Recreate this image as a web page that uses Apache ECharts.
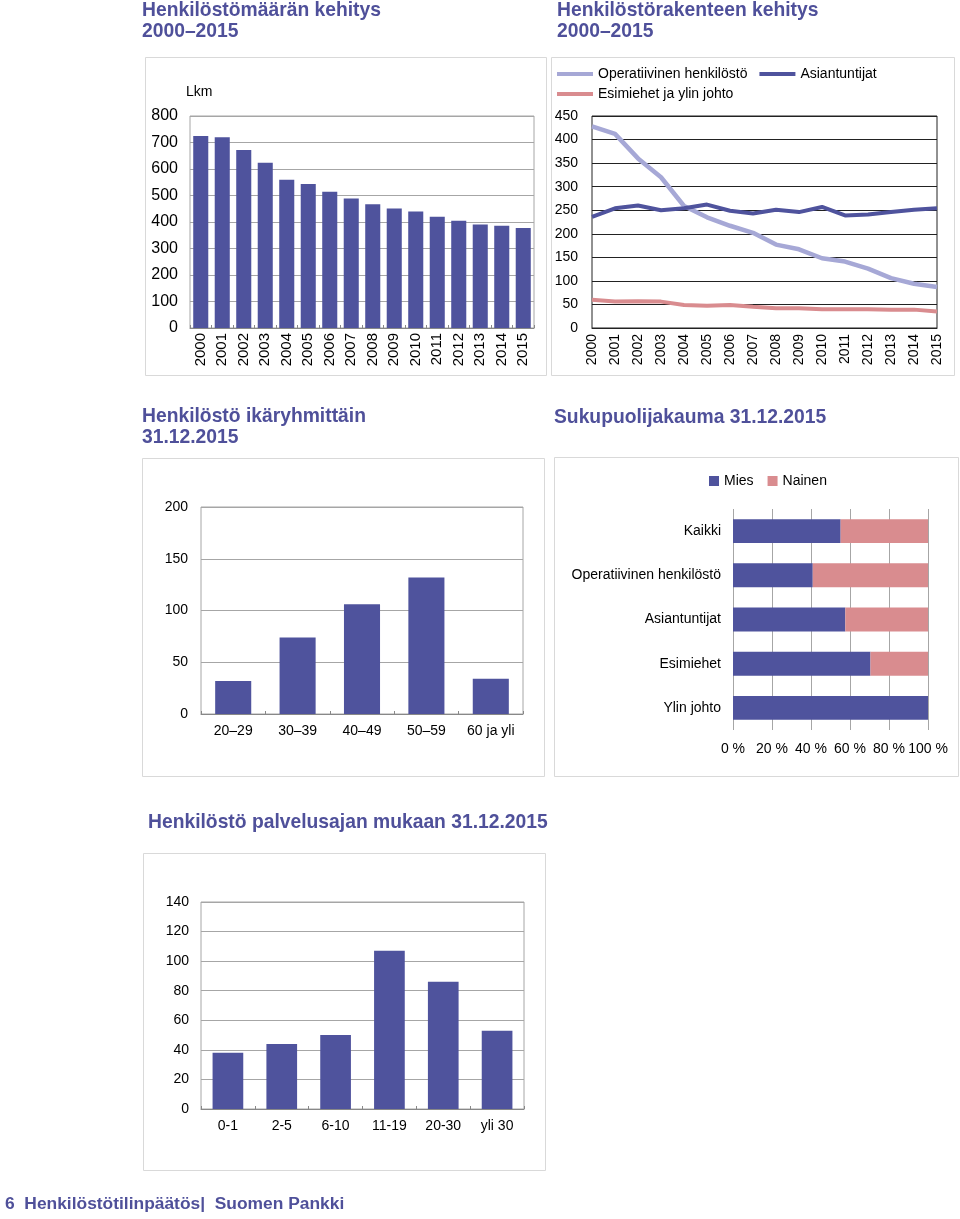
<!DOCTYPE html>
<html>
<head>
<meta charset="utf-8">
<script src="https://cdn.jsdelivr.net/npm/echarts@6/dist/echarts.min.js"></script>
<style>
html,body{margin:0;padding:0;background:#fff;}
#main{width:960px;height:1219px;}
</style>
</head>
<body>
<div id="main"></div>
<script>
const years = ['2000','2001','2002','2003','2004','2005','2006','2007','2008','2009','2010','2011','2012','2013','2014','2015'];
const headcount = [725,720,672,624,559,543,514,489,467,451,440,420,405,391,386,377];
const operational = [428,412,360,320,259,235,217,202,177,167,148,141,126,106,94,87];
const experts = [236,254,260,250,254,262,249,243,251,246,257,239,241,246,251,254];
const managers = [60,56,57,56,49,47,49,45,42,42,40,40,40,39,39,35];
const headcountTicks = [0,100,200,300,400,500,600,700,800];
const ageGroups = ['20–29','30–39','40–49','50–59','60 ja yli'];
const ageValues = [32,74,106,132,34];
const genderCategories = ['Kaikki','Operatiivinen henkilöstö','Asiantuntijat','Esimiehet','Ylin johto'];
const malePct = [55.2,40.9,57.6,70.5,100];
const femalePct = [44.8,59.1,42.4,29.5,0];
const serviceGroups = ['0-1','2-5','6-10','11-19','20-30','yli 30'];
const serviceValues = [38,44,50,107,86,53];

const FONT = '"Liberation Sans", Arial, sans-serif';
const BLUE = '#4f539d';
const LAV = '#a6a8d6';
const PINK = '#d98c8f';
const TITLE = '#4f509a';
const GRID = '#a6a6a6';

function titleObj(text, left, top, size){
  return {text: text, left: left, top: top, padding: 0,
    textStyle: {fontFamily: FONT, fontSize: size || 19.3, fontWeight: 'bold', color: TITLE, lineHeight: 21}};
}
function panel(x,y,w,h){
  return {type:'rect', shape:{x:x+0.5,y:y+0.5,width:w,height:h}, style:{fill:'none', stroke:'#d9d9d9', lineWidth:1}, z:-10};
}
const lab = (size) => ({fontFamily: FONT, fontSize: size, color: '#000'});

const chart = echarts.init(document.getElementById('main'));
chart.setOption({
  animation: false,
  backgroundColor: '#fff',
  textStyle: {fontFamily: FONT},
  title: [
    titleObj('Henkilöstömäärän kehitys\n2000–2015', 142, 0),
    titleObj('Henkilöstörakenteen kehitys\n2000–2015', 557, 0),
    titleObj('Henkilöstö ikäryhmittäin\n31.12.2015', 142, 406),
    titleObj('Sukupuolijakauma 31.12.2015', 554, 407),
    titleObj('Henkilöstö palvelusajan mukaan 31.12.2015', 148, 812),
    titleObj('6  Henkilöstötilinpäätös|  Suomen Pankki', 5, 1194, 17.4)
  ],
  graphic: [
    panel(145,57,401,318),
    panel(551,57,403,318),
    panel(142,458,402,318),
    panel(554,457,404,319),
    panel(143,853,402,317),
    {type:'text', left:186, top:85, style:{text:'Lkm', fontFamily: FONT, fontSize:14, fill:'#000'}}
  ],
  legend: [
    {left:552, top:62, icon:'rect', itemWidth:36, itemHeight:4, itemGap:12,
      data:['Operatiivinen henkilöstö','Asiantuntijat'], textStyle: lab(14)},
    {left:552, top:82, icon:'rect', itemWidth:36, itemHeight:4,
      data:['Esimiehet ja ylin johto'], textStyle: lab(14)},
    {left:704, top:469, itemWidth:10, itemHeight:10, itemGap:14, icon:'rect',
      data:['Mies','Nainen'], textStyle: lab(14)}
  ],
  grid: [
    {left:190, top:116, width:344, height:212, show:true, borderColor:GRID, borderWidth:1},
    {left:592, top:116, width:345, height:212, show:true, borderColor:'#222', borderWidth:1},
    {left:201, top:507, width:322, height:207, show:true, borderColor:GRID, borderWidth:1},
    {left:733, top:509, width:195, height:221, show:false},
    {left:201, top:902, width:323, height:207, show:true, borderColor:GRID, borderWidth:1}
  ],
  xAxis: [
    {gridIndex:0, type:'category', data:years, axisLine:{lineStyle:{color:'#888'}},
      axisTick:{show:true, inside:true, length:3, lineStyle:{color:'#888'}},
      axisLabel:{rotate:90, margin:5, ...lab(15), interval:0}},
    {gridIndex:1, type:'category', data:years, boundaryGap:false, axisLine:{lineStyle:{color:'#222'}},
      axisTick:{show:false},
      axisLabel:{rotate:90, margin:6, ...lab(14), interval:0}},
    {gridIndex:2, type:'category', data:ageGroups, axisLine:{lineStyle:{color:'#888'}},
      axisTick:{show:true, inside:true, length:3, lineStyle:{color:'#888'}},
      axisLabel:{margin:10, ...lab(14), interval:0}},
    {gridIndex:3, type:'value', min:0, max:100, interval:20,
      axisLine:{show:false}, axisTick:{show:false},
      splitLine:{show:true, lineStyle:{color:GRID}},
      axisLabel:{margin:12, ...lab(14), formatter:'{value} %'}},
    {gridIndex:4, type:'category', data:serviceGroups, axisLine:{lineStyle:{color:'#888'}},
      axisTick:{show:true, inside:true, length:3, lineStyle:{color:'#888'}},
      axisLabel:{margin:10, ...lab(14), interval:0}}
  ],
  yAxis: [
    {gridIndex:0, type:'value', min:headcountTicks[0], max:headcountTicks[headcountTicks.length-1], interval:100,
      axisLine:{show:false}, axisTick:{show:false},
      splitLine:{lineStyle:{color:GRID}}, axisLabel:{margin:12, ...lab(16)}},
    {gridIndex:1, type:'value', min:0, max:450, interval:50,
      axisLine:{show:false}, axisTick:{show:false},
      splitLine:{lineStyle:{color:'#222'}}, axisLabel:{margin:14, ...lab(14)}},
    {gridIndex:2, type:'value', min:0, max:200, interval:50,
      axisLine:{show:false}, axisTick:{show:false},
      splitLine:{lineStyle:{color:GRID}}, axisLabel:{margin:13, ...lab(14)}},
    {gridIndex:3, type:'category', data:genderCategories, inverse:true,
      axisLine:{show:false}, axisTick:{show:false},
      axisLabel:{margin:12, ...lab(14), interval:0}},
    {gridIndex:4, type:'value', min:0, max:140, interval:20,
      axisLine:{show:false}, axisTick:{show:false},
      splitLine:{lineStyle:{color:GRID}}, axisLabel:{margin:12, ...lab(14)}}
  ],
  series: [
    {name:'Lkm', type:'bar', xAxisIndex:0, yAxisIndex:0, data:headcount, barCategoryGap:'30%', itemStyle:{color:BLUE}},
    {name:'Operatiivinen henkilöstö', type:'line', xAxisIndex:1, yAxisIndex:1, data:operational, showSymbol:false, symbol:'none',
      lineStyle:{color:LAV, width:4.5}, itemStyle:{color:LAV}},
    {name:'Asiantuntijat', type:'line', xAxisIndex:1, yAxisIndex:1, data:experts, showSymbol:false, symbol:'none',
      lineStyle:{color:BLUE, width:4}, itemStyle:{color:BLUE}},
    {name:'Esimiehet ja ylin johto', type:'line', xAxisIndex:1, yAxisIndex:1, data:managers, showSymbol:false, symbol:'none',
      lineStyle:{color:PINK, width:4}, itemStyle:{color:PINK}},
    {name:'Ikä', type:'bar', xAxisIndex:2, yAxisIndex:2, data:ageValues, barCategoryGap:'44%', itemStyle:{color:BLUE}},
    {name:'Mies', type:'bar', stack:'g', xAxisIndex:3, yAxisIndex:3, data:malePct, barCategoryGap:'46%', itemStyle:{color:BLUE}},
    {name:'Nainen', type:'bar', stack:'g', xAxisIndex:3, yAxisIndex:3, data:femalePct, barCategoryGap:'46%', itemStyle:{color:PINK}},
    {name:'Palvelusaika', type:'bar', xAxisIndex:4, yAxisIndex:4, data:serviceValues, barCategoryGap:'43%', itemStyle:{color:BLUE}}
  ]
});
</script>
</body>
</html>
